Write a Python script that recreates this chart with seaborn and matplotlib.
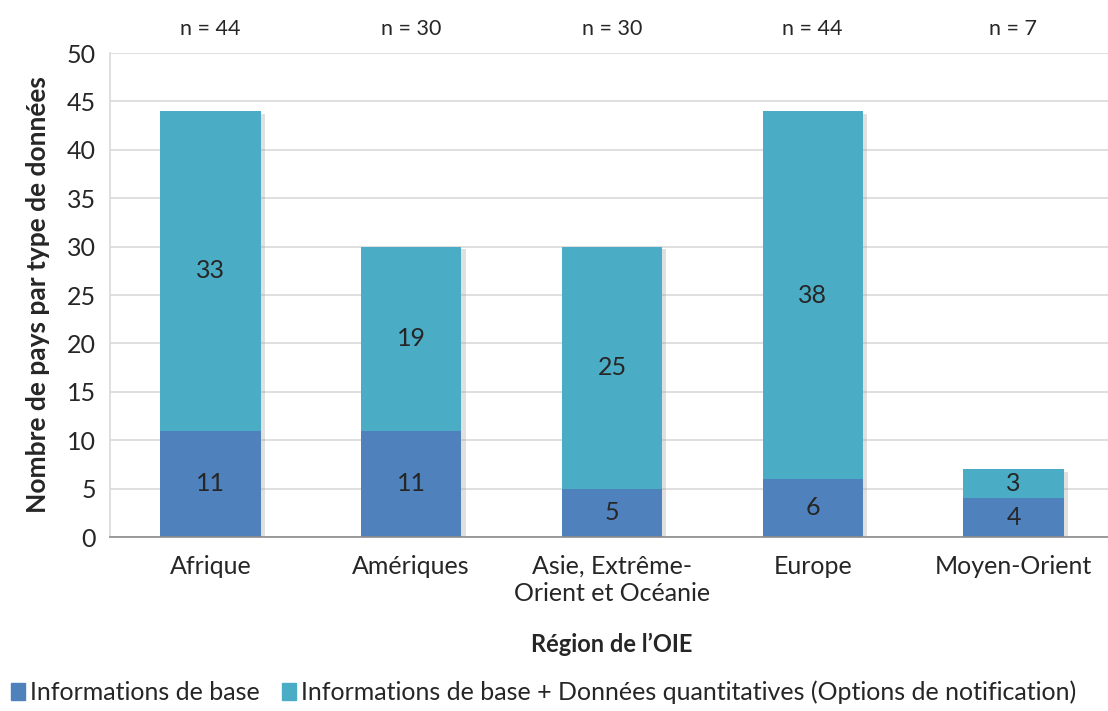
import numpy as np
import pandas as pd
import seaborn as sns
import matplotlib
matplotlib.use('Agg')
import matplotlib.pyplot as plt
import matplotlib.patheffects as pe
from matplotlib.patches import Patch

regions = ['Afrique', 'Amériques', 'Asie, Extrême-\nOrient et Océanie', 'Europe', 'Moyen-Orient']
base = [11, 11, 5, 6, 4]
quant = [33, 19, 25, 38, 3]
n_labels = ['n = 44', 'n = 30', 'n = 30', 'n = 44', 'n = 7']
legend_labels = ['Informations de base',
                 'Informations de base + Données quantitatives (Options de notification)']

c_base = '#4F81BD'
c_quant = '#4BACC6'

sns.set_style('white')
plt.rcParams['font.family'] = ['Lato', 'DejaVu Sans']

df = pd.DataFrame({'region': regions, 'base': base, 'quant': quant})
df['total'] = df['base'] + df['quant']

fig = plt.figure(figsize=(11.08, 7.11), dpi=100)
ax = fig.add_axes([0.0993, 0.2447, 0.906, 0.6807])

shadow = [pe.SimplePatchShadow(offset=(3, -2), shadow_rgbFace='#9A9A9A', alpha=0.3), pe.Normal()]

sns.barplot(data=df, x='region', y='total', color=c_quant, width=0.5, saturation=1,
            linewidth=0, ax=ax, zorder=2)
for p in ax.patches:
    p.set_path_effects(shadow)
sns.barplot(data=df, x='region', y='base', color=c_base, width=0.5, saturation=1,
            linewidth=0, ax=ax, zorder=3)

for i, (b, q) in enumerate(zip(base, quant)):
    ax.text(i, b / 2, str(b), ha='center', va='center', fontsize=18, zorder=5)
    ax.text(i, b + q / 2, str(q), ha='center', va='center', fontsize=18, zorder=5)
    ax.text(i, 52.5, n_labels[i], ha='center', va='center', fontsize=15.5, clip_on=False)

ax.set_xlim(-0.5, 4.5)
ax.set_ylim(0, 50)
ax.set_yticks(np.arange(0, 51, 5))
ax.yaxis.grid(True, color='#D9D9D9', lw=1.2, zorder=0)
ax.set_axisbelow(True)

ax.set_xticks(np.arange(-0.5, 4.6, 1), minor=True)
ax.tick_params(axis='x', which='major', length=0, labelsize=18, pad=13)
ax.tick_params(axis='x', which='minor', length=7, color='#8C8C8C', width=1.2, direction='out')
ax.tick_params(axis='y', length=7, color='#D9D9D9', width=1.2, labelsize=18, pad=3, direction='out')

for s in ['top', 'right']:
    ax.spines[s].set_visible(False)
ax.spines['left'].set_color('#D9D9D9')
ax.spines['left'].set_linewidth(1.2)
ax.spines['bottom'].set_color('#8C8C8C')
ax.spines['bottom'].set_linewidth(1.2)
ax.spines['bottom'].set_zorder(6)

ax.set_xlabel("Région de l’OIE", fontsize=17, fontweight='bold', labelpad=20)
ax.set_ylabel('Nombre de pays par type de données', fontsize=19, fontweight='bold', labelpad=12)

handles = [Patch(color=c_base), Patch(color=c_quant)]
fig.legend(handles, legend_labels, loc='lower left', bbox_to_anchor=(-0.01, -0.022), ncol=2,
           frameon=False, fontsize=18, handlelength=0.55, handleheight=0.65,
           handletextpad=0.2, columnspacing=0.9)

fig.savefig('out.png', dpi=100)
